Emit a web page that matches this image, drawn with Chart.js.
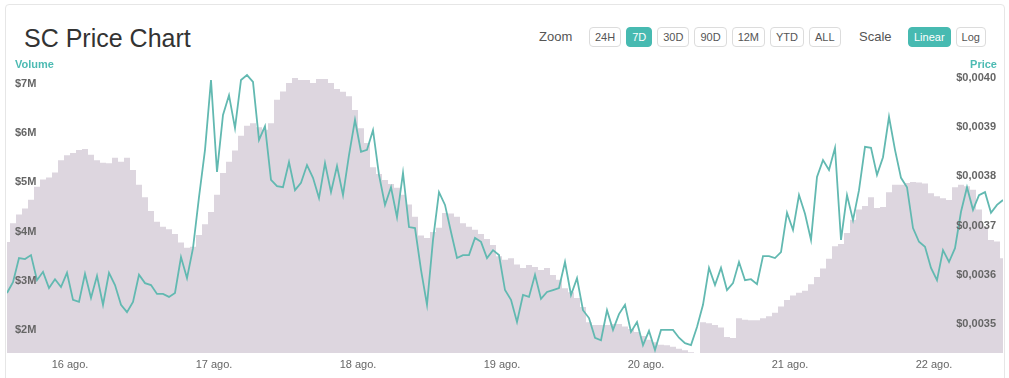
<!DOCTYPE html>
<html>
<head>
<meta charset="utf-8">
<script src="https://cdn.jsdelivr.net/npm/chart.js@4.4.1/dist/chart.umd.min.js"></script>
<style>
    body { margin: 0; background: #fff; font-family: 'Liberation Sans', Arial, sans-serif; }
    #card { position: absolute; left: 5px; top: 4px; width: 998px; height: 420px; border: 1px solid #e6e6e6; border-radius: 4px; }
    #title { position: absolute; left: 24px; top: 26px; font-size: 25px; line-height: 25px; color: #333; }
    .label { position: absolute; top: 30px; font-size: 13px; line-height: 14px; color: #555; }
    .btns { position: absolute; top: 27px; display: flex; gap: 5px; }
    .btn { height: 18px; line-height: 18px; padding: 0 5px; border: 1px solid #dcdcdc; border-radius: 4px; font-size: 11px; color: #555; background: #fff; }
    .btn.on { background: #47bab1; border-color: #47bab1; color: #fff; }
    .axis-title { position: absolute; top: 58px; font-size: 11px; line-height: 12px; font-weight: bold; color: #4dbbb3; }
    #chart { position: absolute; left: 0; top: 0; }
</style>
</head>
<body>
<div id="card"></div>
<div id="title">SC Price Chart</div>
<div class="label" style="left:539px">Zoom</div>
<div class="btns" style="left:589px">
    <span class="btn">24H</span><span class="btn on">7D</span><span class="btn">30D</span><span class="btn">90D</span><span class="btn">12M</span><span class="btn">YTD</span><span class="btn">ALL</span>
</div>
<div class="label" style="left:859px">Scale</div>
<div class="btns" style="left:908px">
    <span class="btn on">Linear</span><span class="btn">Log</span>
</div>
<canvas id="chart" width="1009" height="378"></canvas>
<div class="axis-title" style="left:15px">Volume</div>
<div class="axis-title" style="right:12px">Price</div>
<script>
// Hourly samples, first one at 13:30 on 15 ago. (hours relative to 16 ago. 00:00)
const startHour = -10.5;

// SC price in USD
const prices = [
    0.003563, 0.003585, 0.003634, 0.003632, 0.003640, 0.003589, 0.003606, 0.003573, 0.003591, 0.003575,
    0.003604, 0.003549, 0.003545, 0.003602, 0.003553, 0.003598, 0.003539, 0.003604, 0.003579, 0.003539,
    0.003524, 0.003545, 0.003600, 0.003583, 0.003579, 0.003561, 0.003561, 0.003555, 0.003563, 0.003636,
    0.003593, 0.003654, 0.003758, 0.003854, 0.003996, 0.003809, 0.003925, 0.003965, 0.003898, 0.003996,
    0.004006, 0.003992, 0.003874, 0.003902, 0.003793, 0.003780, 0.003778, 0.003829, 0.003772, 0.003787,
    0.003823, 0.003797, 0.003756, 0.003827, 0.003768, 0.003821, 0.003762, 0.003843, 0.003915, 0.003850,
    0.003854, 0.003894, 0.003803, 0.003742, 0.003778, 0.003717, 0.003807, 0.003697, 0.003695, 0.003610,
    0.003539, 0.003671, 0.003768, 0.003742, 0.003687, 0.003634, 0.003640, 0.003640, 0.003675, 0.003667,
    0.003634, 0.003650, 0.003640, 0.003569, 0.003549, 0.003504, 0.003559, 0.003555, 0.003600, 0.003551,
    0.003565, 0.003569, 0.003573, 0.003626, 0.003559, 0.003593, 0.003528, 0.003512, 0.003472, 0.003467,
    0.003528, 0.003488, 0.003520, 0.003539, 0.003484, 0.003504, 0.003457, 0.003486, 0.003447, 0.003488,
    0.003488, 0.003488, 0.003472, 0.003461, 0.003457, 0.003494, 0.003539, 0.003614, 0.003579, 0.003614,
    0.003569, 0.003583, 0.003626, 0.003589, 0.003591, 0.003581, 0.003638, 0.003638, 0.003634, 0.003646,
    0.003726, 0.003691, 0.003762, 0.003724, 0.003671, 0.003799, 0.003833, 0.003813, 0.003858, 0.003671,
    0.003762, 0.003711, 0.003772, 0.003860, 0.003858, 0.003803, 0.003839, 0.003921, 0.003854, 0.003797,
    0.003778, 0.003695, 0.003667, 0.003657, 0.003614, 0.003589, 0.003650, 0.003626, 0.003654, 0.003728,
    0.003778, 0.003732, 0.003762, 0.003768, 0.003726, 0.003742, 0.003752
];

// 24h volume, millions of USD
const volumeMillions = [
    3.79, 4.17, 4.35, 4.47, 4.65, 4.91, 5.06, 5.10, 5.20, 5.45,
    5.55, 5.60, 5.66, 5.68, 5.56, 5.45, 5.40, 5.39, 5.50, 5.42,
    5.50, 5.25, 4.95, 4.70, 4.42, 4.20, 4.10, 4.05, 3.95, 3.78,
    3.67, 3.69, 3.93, 4.15, 4.40, 4.75, 5.19, 5.42, 5.65, 5.95,
    6.15, 6.20, 6.12, 6.07, 6.20, 6.68, 6.85, 7.02, 7.12, 7.08,
    7.08, 7.02, 7.10, 7.10, 7.02, 6.90, 6.84, 6.75, 6.47, 6.10,
    5.80, 5.31, 5.17, 5.05, 4.97, 4.89, 4.75, 4.55, 4.30, 3.92,
    3.87, 3.99, 4.08, 4.38, 4.37, 4.30, 4.17, 4.10, 4.04, 3.95,
    3.85, 3.73, 3.50, 3.43, 3.46, 3.33, 3.26, 3.32, 3.28, 3.22,
    3.26, 3.12, 3.02, 2.85, 2.77, 2.65, 2.47, 2.16, 2.10, 2.10,
    2.10, 2.12, 2.12, 2.07, 2.02, 1.96, 1.88, 1.80, 1.75, 1.70,
    1.69, 1.66, 1.62, 1.59, 1.55, 1.45, 2.16, 2.14, 2.10, 2.05,
    1.86, 1.84, 2.24, 2.21, 2.20, 2.20, 2.24, 2.28, 2.35, 2.48,
    2.61, 2.70, 2.76, 2.80, 2.93, 3.08, 3.25, 3.45, 3.70, 3.75,
    3.97, 4.24, 4.45, 4.52, 4.70, 4.48, 4.50, 4.80, 4.95, 4.95,
    4.99, 5.01, 5.00, 4.98, 4.78, 4.72, 4.68, 4.64, 4.90, 4.95,
    4.92, 4.85, 4.45, 4.10, 3.83, 3.80, 3.46
];

// Axis ticks
const dayLabels = ['16 ago.', '17 ago.', '18 ago.', '19 ago.', '20 ago.', '21 ago.', '22 ago.'];
const dayTicks = [0, 24, 48, 72, 96, 120, 144];
const volumeTicks = [2, 3, 4, 5, 6, 7];
const priceTicks = [0.0035, 0.0036, 0.0037, 0.0038, 0.0039, 0.0040];

const teal = '#62b9b1';
const tickFont = { family: "'Liberation Sans', Arial, sans-serif", size: 11, weight: 'bold' };

const pricePoints = prices.map((p, i) => ({ x: startHour + i, y: p }));
const volumePoints = volumeMillions.map((v, i) => ({ x: startHour + i, y: v }));

new Chart(document.getElementById('chart').getContext('2d'), {
    data: {
        datasets: [
            {
                type: 'line',
                label: 'Price',
                yAxisID: 'price',
                data: pricePoints,
                borderColor: teal,
                borderWidth: 1.8,
                pointRadius: 0,
                tension: 0,
                order: 0
            },
            {
                type: 'line',
                label: 'Volume',
                yAxisID: 'volume',
                data: volumePoints,
                stepped: 'middle',
                fill: 'origin',
                backgroundColor: '#ddd6df',
                borderWidth: 0,
                pointRadius: 0,
                order: 1
            }
        ]
    },
    options: {
        responsive: false,
        animation: false,
        layout: { padding: { left: 7, right: 6, top: 62, bottom: 0 } },
        plugins: { legend: { display: false }, tooltip: { enabled: false } },
        scales: {
            x: {
                type: 'linear',
                min: startHour,
                max: startHour + prices.length - 1,
                afterBuildTicks: s => { s.ticks = dayTicks.map(v => ({ value: v })); },
                afterFit: s => { s.height = 25; },
                ticks: {
                    autoSkip: false, maxRotation: 0, padding: 5,
                    color: '#666', font: { family: tickFont.family, size: 11 },
                    callback: (v, i) => dayLabels[i]
                },
                grid: { display: false, drawTicks: false },
                border: { display: false }
            },
            volume: {
                type: 'linear',
                position: 'left',
                min: 1.533,
                max: 7.447,
                afterBuildTicks: s => { s.ticks = volumeTicks.map(v => ({ value: v })); },
                afterFit: s => { s.width = 0; },
                ticks: {
                    z: 1, mirror: true, padding: 8, color: '#666', font: tickFont,
                    callback: v => '$' + v + 'M'
                },
                grid: { display: false, drawTicks: false },
                border: { display: false }
            },
            price: {
                type: 'linear',
                position: 'right',
                min: 0.003441,
                max: 0.0040325,
                afterBuildTicks: s => { s.ticks = priceTicks.map(v => ({ value: v })); },
                afterFit: s => { s.width = 0; },
                ticks: {
                    z: 1, mirror: true, padding: -7, color: '#666', font: tickFont,
                    callback: v => '$' + v.toFixed(4).replace('.', ',')
                },
                grid: { display: false, drawTicks: false },
                border: { display: false }
            }
        }
    }
});
</script>
</body>
</html>
